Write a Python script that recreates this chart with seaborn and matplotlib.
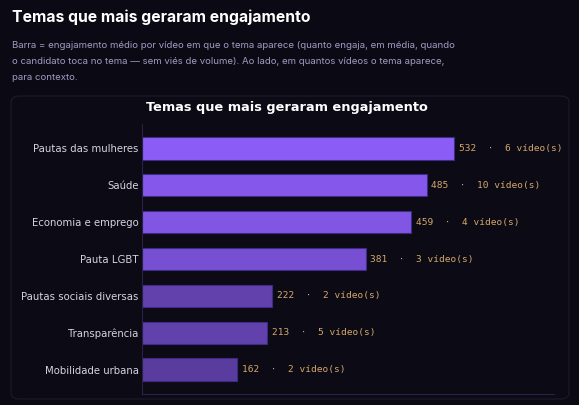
import numpy as np
import pandas as pd
import matplotlib
matplotlib.use("Agg")
import matplotlib.pyplot as plt
from matplotlib.patches import FancyBboxPatch
import seaborn as sns

# data
themes = ["Pautas das mulheres", "Saúde", "Economia e emprego", "Pauta LGBT",
          "Pautas sociais diversas", "Transparência", "Mobilidade urbana"]
engagement = [532, 485, 459, 381, 222, 213, 162]
n_videos = [6, 10, 4, 3, 2, 5, 2]

header = "Temas que mais geraram engajamento"
desc_lines = [
    "Barra = engajamento médio por vídeo em que o tema aparece (quanto engaja, em média, quando",
    "o candidato toca no tema — sem viés de volume). Ao lado, em quantos vídeos o tema aparece,",
    "para contexto.",
]

BG = "#0b0913"
PANEL = "#0c0a15"
BAR = np.array([139, 92, 246]) / 255
BG_RGB = np.array([11, 9, 19]) / 255

df = pd.DataFrame({"tema": themes, "eng": engagement, "n": n_videos})

# brighter bars for higher engagement
vmax = max(engagement)
colors = [tuple(BG_RGB + (0.45 + 0.55 * v / vmax) * (BAR - BG_RGB)) for v in engagement]

sns.set_theme(style="dark")
plt.rcParams["font.family"] = ["DejaVu Sans"]

W, H = 579, 405
fig = plt.figure(figsize=(W / 100, H / 100), dpi=100, facecolor=BG)

# header + description (page text above the card)
fig.text(12 / W, 1 - 17 / H, header, color="white", fontsize=11.3,
         fontweight="bold", family=["Inter", "DejaVu Sans"], va="center", ha="left")
for i, line in enumerate(desc_lines):
    fig.text(12 / W, 1 - (45 + 16 * i) / H, line, color="#a09bc2", fontsize=6.95,
             family=["Inter", "DejaVu Sans"], va="center", ha="left")

# rounded card
card = FancyBboxPatch((11 / W, 1 - 399 / H), 558 / W, 303 / H,
                      boxstyle="round,pad=0,rounding_size=0.015",
                      transform=fig.transFigure, facecolor=PANEL,
                      edgecolor="#1d1929", linewidth=0.9, zorder=-1)
fig.patches.append(card)

ax = fig.add_axes([142 / W, 1 - 394 / H, 412 / W, 270 / H])
ax.set_facecolor("none")
ax.set_zorder(2)

sns.barplot(data=df, x="eng", y="tema", hue="tema", palette=colors, legend=False,
            orient="h", width=0.62, saturation=1, edgecolor="#3e2b85",
            linewidth=0.8, ax=ax)

for i, row in df.iterrows():
    ax.annotate(f"{row['eng']}  ·  {row['n']} vídeo(s)", xy=(row["eng"], i),
                xytext=(3.5, 0), textcoords="offset points", va="center", ha="left",
                color="#d4a86c", fontsize=6.8, family="DejaVu Sans Mono")

ax.set_xlim(0, vmax * 1.32)
ax.set_ylim(6.65, -0.65)
ax.set_xlabel("")
ax.set_ylabel("")
ax.set_xticks([])
ax.tick_params(axis="y", length=0, pad=2.5, labelsize=7.3, labelcolor="#d6d4de")
ax.grid(False)
for side in ["top", "right"]:
    ax.spines[side].set_visible(False)
for side in ["left", "bottom"]:
    ax.spines[side].set_visible(True)
    ax.spines[side].set_color("#2b2148")
    ax.spines[side].set_linewidth(0.8)

fig.text(0.495, 1 - 107 / H, header, color="white", fontsize=9.3,
         fontweight="bold", ha="center", va="center")

fig.savefig("out.png", dpi=100, facecolor=BG)
